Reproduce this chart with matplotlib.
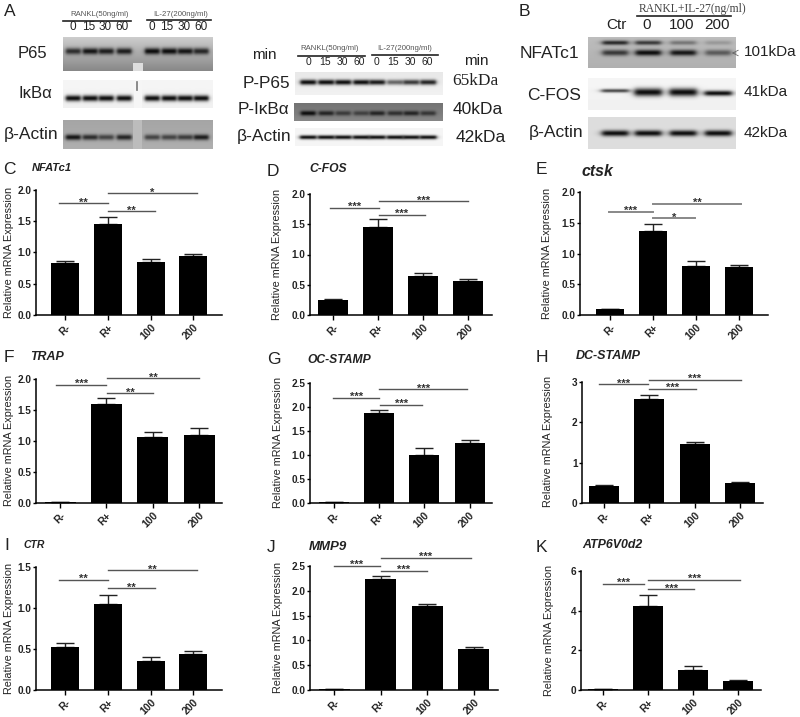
import numpy as np
import matplotlib
matplotlib.use("Agg")
import matplotlib.pyplot as plt

plt.rcParams["font.family"] = ["Liberation Sans", "DejaVu Sans"]

W, H = 800, 717
groups = ["R-", "R+", "100", "200"]

# panel: values, top of the error bar
nfatc1 = [0.83, 1.45, 0.85, 0.94]
nfatc1_top = [0.87, 1.56, 0.90, 0.98]
cfos = [0.25, 1.45, 0.65, 0.57]
cfos_top = [0.26, 1.58, 0.69, 0.59]
ctsk = [0.09, 1.37, 0.80, 0.78]
ctsk_top = [0.105, 1.48, 0.88, 0.81]
trap = [0.015, 1.60, 1.06, 1.10]
trap_top = [0.02, 1.69, 1.14, 1.21]
ocstamp = [0.02, 1.87, 1.00, 1.25]
ocstamp_top = [0.025, 1.93, 1.14, 1.32]
dcstamp = [0.42, 2.57, 1.46, 0.50]
dcstamp_top = [0.45, 2.69, 1.51, 0.53]
ctr = [0.53, 1.05, 0.35, 0.44]
ctr_top = [0.57, 1.16, 0.40, 0.48]
mmp9 = [0.015, 2.23, 1.69, 0.83]
mmp9_top = [0.02, 2.30, 1.74, 0.87]
atp = [0.03, 4.25, 1.03, 0.44]
atp_top = [0.05, 4.78, 1.19, 0.48]

# significance lines: x from, x to, y, stars
sig_c = [(-0.13, 1.0, 1.79, "**"), (1.0, 2.1, 1.66, "**"), (1.0, 3.09, 1.95, "*")]
sig_d = [(-0.07, 1.02, 1.77, "***"), (1.02, 2.03, 1.66, "***"), (1.02, 3.0, 1.88, "***")]
sig_e = [(-0.03, 1.0, 1.68, "***"), (1.0, 1.98, 1.57, "*"), (1.0, 3.04, 1.81, "**")]
sig_f = [(-0.09, 1.0, 1.91, "***"), (1.02, 2.01, 1.77, "**"), (1.02, 3.0, 2.01, "**")]
sig_g = [(-0.02, 1.0, 2.19, "***"), (1.02, 1.95, 2.05, "***"), (1.0, 2.95, 2.37, "***")]
sig_h = [(-0.12, 0.97, 2.94, "***"), (0.99, 2.03, 2.83, "***"), (0.99, 3.02, 3.06, "***")]
sig_i = [(-0.13, 1.01, 1.345, "**"), (1.01, 2.1, 1.24, "**"), (1.0, 3.09, 1.46, "**")]
sig_j = [(-0.01, 0.98, 2.51, "***"), (1.0, 2.0, 2.40, "***"), (1.0, 2.95, 2.67, "***")]
sig_k = [(0.0, 0.91, 5.35, "***"), (1.01, 2.02, 5.08, "***"), (1.01, 3.04, 5.55, "***")]

# blot band strengths, one per lane
lanes_a = [73, 90, 106, 124, 152, 169, 185, 201]
lanes_a2 = [308, 326, 343, 361, 377, 395, 411, 428]
lanes_b = [615, 648, 683, 718]
p65_bands = [0.8, 0.95, 0.9, 0.9, 1.0, 1.0, 0.95, 0.85]
ikba_bands = [1.0, 1.0, 1.0, 1.0, 1.0, 1.0, 1.0, 1.0]
actin1_bands = [0.95, 0.8, 0.65, 0.85, 0.65, 0.65, 0.7, 0.9]
pp65_bands = [1.0, 1.0, 1.0, 1.0, 0.95, 0.6, 0.8, 0.9]
pikba_bands = [1.0, 0.8, 0.6, 0.55, 0.8, 0.7, 0.8, 0.65]
actin2_bands = [1.0, 1.0, 1.0, 1.0, 1.0, 1.0, 1.0, 1.0]
nfat_upper = [0.85, 0.75, 0.4, 0.2]
nfat_lower = [0.75, 1.0, 0.95, 0.55]
cfos_bands = [0.75, 1.0, 1.0, 1.0]
actin3_bands = [1.0, 1.0, 1.0, 1.0]


def blot(ax, box, bg, rows, half_w):
    # box in image pixels, bg = grey at top and bottom, rows = (lanes, strengths, y, half height)
    x0, x1, y0, y1 = box
    xs = np.arange(x0, x1, 0.5)
    ys = np.arange(y0, y1, 0.5)
    gx, gy = np.meshgrid(xs, ys)
    img = bg[0] + (bg[1] - bg[0]) * (gy - y0) / (y1 - y0)
    for lanes, vals, yc, hh in rows:
        for lane, v in zip(lanes, vals):
            prof = np.exp(-((gy - yc) / hh) ** 2) / (1 + ((gx - lane) / half_w) ** 8)
            img = img - (img - 12) * v * prof
    ax.imshow(img, cmap="gray", vmin=0, vmax=255, extent=(x0, x1, y1, y0),
              aspect="auto", interpolation="bilinear", zorder=1)


def bar_panel(box, ylab, ymax, yticks, fmt, vals, tops, sig, sig_col="#555555", sig_lw=1.0):
    left, right, top, bottom, c0, step, bw = box
    ax = fig.add_axes([left / W, 1 - bottom / H, (right - left) / W, (bottom - top) / H])
    ax.patch.set_alpha(0)
    x = np.arange(4)
    ax.bar(x, vals, width=bw / step, color="black", zorder=2)
    upper = np.array(tops) - np.array(vals)
    ax.errorbar(x, vals, yerr=[np.zeros(4), upper], fmt="none", ecolor="#222222",
                elinewidth=1.0, capsize=6.5, capthick=1.0, zorder=1)
    ax.set_xlim((left - c0) / step, (right - c0) / step)
    ax.set_ylim(0, ymax)
    ax.set_yticks(yticks)
    ax.set_yticklabels([fmt % t for t in yticks], fontsize=7.2, fontweight="bold", color="#222222")
    ax.set_xticks(x)
    ax.set_xticklabels(groups, rotation=45, ha="right", rotation_mode="anchor",
                       fontsize=7.5, fontweight="bold", color="#222222")
    ax.tick_params(axis="x", length=3.5, width=1.0, pad=2)
    ax.tick_params(axis="y", length=2.5, width=1.0, pad=0.8)
    ax.spines["top"].set_visible(False)
    ax.spines["right"].set_visible(False)
    ax.spines["left"].set_linewidth(1.1)
    ax.spines["bottom"].set_linewidth(1.1)
    ax.set_ylabel("Relative mRNA Expression", fontsize=7.8, color="#222222")
    # label coords anchor the right edge of the rotated text, ylab x is its centre
    ax.yaxis.set_label_coords((ylab[0] + 5 - left) / (right - left), (bottom - ylab[1]) / (bottom - top))
    for a, b, y, stars in sig:
        ax.plot([a, b], [y, y], color=sig_col, lw=sig_lw, clip_on=False, zorder=3)
        ax.text((a + b) / 2, y + ymax * 0.006, stars, ha="center", va="center", fontsize=8,
                fontweight="bold", color="#333333", clip_on=False)
    return ax


fig = plt.figure(figsize=(8, 7.17), dpi=100)
canvas = fig.add_axes([0, 0, 1, 1])
canvas.set_xlim(0, W)
canvas.set_ylim(H, 0)
canvas.axis("off")

# western blots
blot(canvas, (63, 213, 37, 71), (205, 135), [(lanes_a, p65_bands, 51, 3.2)], 7.5)
canvas.fill_between([133, 143], 63, 71, color="#dddddd", lw=0, zorder=2)
blot(canvas, (63, 213, 80, 108), (246, 240), [(lanes_a, ikba_bands, 98, 3.0)], 7.5)
canvas.fill_between([134, 142], 80, 108, color="#f6f6f6", lw=0, zorder=2)
canvas.plot([136.5, 136.5], [82, 90], color="#777777", lw=1.2, zorder=3)
blot(canvas, (63, 213, 120, 149), (165, 175), [(lanes_a, actin1_bands, 137, 2.8)], 7.5)
canvas.fill_between([133, 142], 120, 149, color="#bcbcbc", lw=0, zorder=2)
blot(canvas, (295, 443, 72, 95), (232, 242), [(lanes_a2, pp65_bands, 82, 2.6)], 8)
blot(canvas, (294, 443, 103, 121), (115, 135), [(lanes_a2, pikba_bands, 113, 2.4)], 7.5)
blot(canvas, (295, 443, 128, 146), (246, 246), [(lanes_a2, actin2_bands, 137, 2.0)], 8.5)
blot(canvas, (588, 736, 37, 68), (190, 175),
     [(lanes_b, nfat_upper, 42.5, 2.2), (lanes_b, nfat_lower, 52.5, 3.0)], 13)
blot(canvas, (588, 736, 78, 110), (246, 240),
     [(lanes_b[:1], cfos_bands[:1], 90.5, 1.8), (lanes_b[1:3], cfos_bands[1:3], 92, 4.0),
      (lanes_b[3:], cfos_bands[3:], 93, 2.6)], 14)
blot(canvas, (588, 736, 117, 149), (222, 222), [(lanes_b, actin3_bands, 133, 3.0)], 13.5)


def label(x, y, s, size=11.5, ha="left", family=None, color="#222222", **kw):
    fam = family if family else ["Liberation Sans", "DejaVu Sans"]
    canvas.text(x, y, s, fontsize=size, ha=ha, va="center", family=fam, color=color, zorder=5, **kw)


# panel letters
for letter, lx, ly in [("A", 4, 11), ("B", 519, 11), ("C", 3, 170), ("D", 267, 171),
                       ("E", 536, 170), ("F", 4, 358), ("G", 267, 359), ("H", 536, 358),
                       ("I", 4, 546), ("J", 267, 547), ("K", 536, 547)]:
    label(lx, ly, letter, size=12.5)

# gene names
for name, nx, ny, sz in [("NFATc1", 32, 168, 8), ("C-FOS", 309, 169, 8.7), ("ctsk", 582, 171, 11.4),
                         ("TRAP", 30, 357, 8.9), ("OC-STAMP", 307, 360, 8.7), ("DC-STAMP", 576, 356, 9),
                         ("CTR", 23, 545, 7.5), ("MMP9", 309, 547, 9.5), ("ATP6V0d2", 582, 545, 8.9)]:
    label(nx, ny, name, size=sz, fontweight="bold", fontstyle="italic")

# blot headers and labels
for hdr, hx, hy in [("RANKL(50ng/ml)", 100, 15), ("IL-27(200ng/ml)", 181, 15),
                    ("RANKL(50ng/ml)", 330, 49), ("IL-27(200ng/ml)", 405, 49)]:
    label(hx, hy, hdr, size=5.6, ha="center", color="#555555")
for x0, x1, y in [(63, 131, 20.5), (147, 211, 20), (298, 365, 56), (372, 438, 55), (637, 731, 16)]:
    canvas.plot([x0, x1], [y, y], color="#222222", lw=1.2, zorder=4)
for xs, y, size in [([73, 89, 105, 122, 152, 167, 184, 201], 27, 8.5),
                    ([308, 325, 342, 359, 376, 393, 410, 427], 62, 7.5)]:
    for xp, t in zip(xs, ["0", "15", "30", "60"] * 2):
        label(xp, y, t, size=size, ha="center")
for xp, t in zip([616, 647, 682, 717], ["Ctr", "0", "100", "200"]):
    label(xp, 25, t, size=11, ha="center")
label(639, 9, "RANKL+IL-27(ng/ml)", size=8.4, family="Liberation Serif", color="#444444")

label(18, 54, "P65", size=12)
label(18, 94, "IκBα", size=12)
label(4, 135, "β-Actin", size=12.5)
label(252, 55, "min", size=11)
label(464, 61, "min", size=11)
label(243, 83, "P-P65", size=12.3)
label(238, 110, "P-IκBα", size=12.3)
label(237, 137, "β-Actin", size=12.5)
label(452, 81, "65kDa", size=12.5, family="Liberation Serif")
label(453, 110, "40kDa", size=12.5)
label(456, 137, "42kDa", size=12.5)
label(520, 54, "NFATc1", size=12.5)
label(527, 96, "C-FOS", size=12.5)
label(529, 133, "β-Actin", size=12.5)
label(744, 52, "101kDa", size=11)
label(744, 92, "41kDa", size=11)
label(744, 133, "42kDa", size=11)
canvas.annotate("", xy=(729, 53), xytext=(739, 53), zorder=5,
                arrowprops=dict(arrowstyle="->", color="#666666", lw=0.6))

fmt1 = "%.1f"
fmt0 = "%d"
# left, right, top, bottom, first bar centre, bar spacing, bar width (px); ylabel x, y (px)
bar_panel((36, 222, 190, 315, 65, 42.8, 28), (9, 252), 2.0, [0, 0.5, 1.0, 1.5, 2.0], fmt1, nfatc1, nfatc1_top, sig_c)
bar_panel((310, 492, 194, 315, 333, 45.1, 30), (277, 254), 2.0, [0, 0.5, 1.0, 1.5, 2.0], fmt1, cfos, cfos_top, sig_d)
bar_panel((580, 768, 192, 315, 610, 43.1, 28), (547, 253), 2.0, [0, 0.5, 1.0, 1.5, 2.0], fmt1, ctsk, ctsk_top, sig_e, "#888888", 1.4)
bar_panel((36, 222, 379, 503, 60, 46.4, 31), (9, 440), 2.0, [0, 0.5, 1.0, 1.5, 2.0], fmt1, trap, trap_top, sig_f)
bar_panel((310, 492, 383, 503, 334, 45.2, 30), (278, 442), 2.5, [0, 0.5, 1.0, 1.5, 2.0, 2.5], fmt1, ocstamp, ocstamp_top, sig_g)
bar_panel((582, 763, 382, 503, 604, 45.4, 30), (548, 441), 3, [0, 1, 2, 3], fmt0, dcstamp, dcstamp_top, sig_h)
bar_panel((36, 222, 567, 690, 65, 42.8, 28), (9, 628), 1.5, [0, 0.5, 1.0, 1.5], fmt1, ctr, ctr_top, sig_i)
bar_panel((310, 498, 566, 690, 334, 46.6, 31), (278, 627), 2.5, [0, 0.5, 1.0, 1.5, 2.0, 2.5], fmt1, mmp9, mmp9_top, sig_j)
bar_panel((581, 761, 571, 690, 603, 45, 30), (549, 630), 6, [0, 2, 4, 6], fmt0, atp, atp_top, sig_k)

fig.savefig("out.png", dpi=100)
